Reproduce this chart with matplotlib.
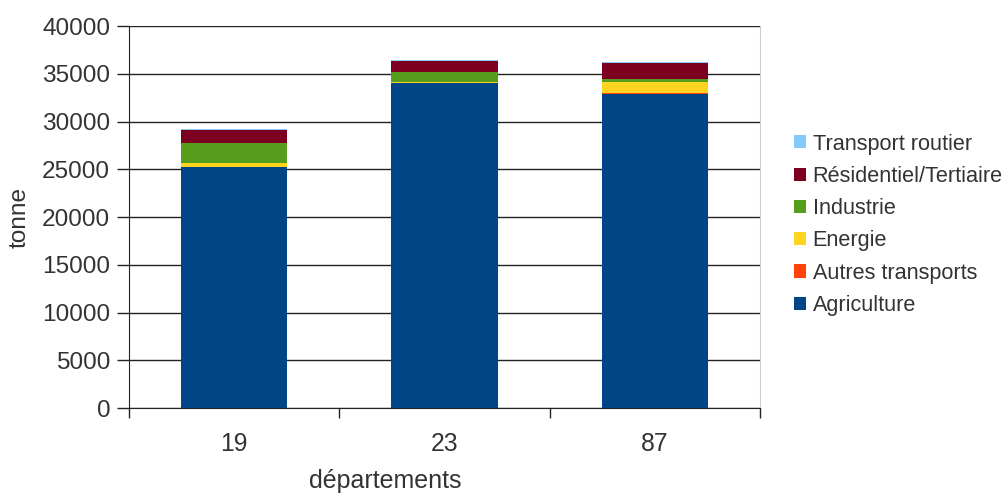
import matplotlib.pyplot as plt
import numpy as np

plt.rcParams['font.family'] = ['Liberation Sans', 'DejaVu Sans']

departements = ["19", "23", "87"]
agriculture = [25200, 34000, 32900]
autres_transports = [0, 0, 100]
energie = [420, 120, 1150]
industrie = [2100, 1050, 310]
residentiel = [1380, 1150, 1680]
transport_routier = [80, 100, 100]

series = [
    ("Agriculture", agriculture, "#004586"),
    ("Autres transports", autres_transports, "#ff420e"),
    ("Energie", energie, "#ffd320"),
    ("Industrie", industrie, "#579d1c"),
    ("Résidentiel/Tertiaire", residentiel, "#7e0021"),
    ("Transport routier", transport_routier, "#83caff"),
]

txt = "#333333"
fig = plt.figure(figsize=(10.07, 4.94), dpi=100)
ax = fig.add_axes([0.128, 0.174, 0.627, 0.773])

x = np.arange(len(departements))
bottom = np.zeros(len(departements))
for name, vals, col in series:
    ax.bar(x, vals, width=0.505, bottom=bottom, color=col, label=name, zorder=3)
    bottom += np.array(vals)

ax.set_ylim(0, 40000)
ax.set_xlim(-0.5, 2.5)
ax.set_yticks(range(0, 40001, 5000))
ax.yaxis.grid(True, color="#222222", linewidth=1, zorder=0)
ax.set_xticks(x)
ax.set_xticklabels(departements)
ax.set_xticks([-0.5, 0.5, 1.5, 2.5], minor=True)
ax.tick_params(axis="x", which="major", length=0, pad=17, labelsize=17.8, labelcolor=txt)
ax.tick_params(axis="x", which="minor", length=7.5, width=1, color="#222222")
ax.tick_params(axis="y", length=9, width=1, color="#222222", labelsize=17.6, labelcolor=txt, pad=4.5)

ax.spines["top"].set_visible(False)
ax.spines["right"].set_color("#cccccc")
ax.spines["left"].set_color("#222222")
ax.spines["bottom"].set_color("#222222")

ax.set_xlabel("départements", fontsize=18, color=txt, va="center")
ax.xaxis.set_label_coords(0.406, -0.191)
ax.set_ylabel("tonne", fontsize=17.6, color=txt, va="center")
ax.yaxis.set_label_coords(-0.173, 0.5)

handles, labels = ax.get_legend_handles_labels()
leg = ax.legend(handles[::-1], labels[::-1], loc="center left", bbox_to_anchor=(1.04, 0.48),
                frameon=False, fontsize=15.6, handlelength=0.55, handleheight=0.55,
                handletextpad=0.3, labelspacing=0.52, borderaxespad=0)
for t in leg.get_texts():
    t.set_color(txt)

fig.savefig("out.png", dpi=100)
